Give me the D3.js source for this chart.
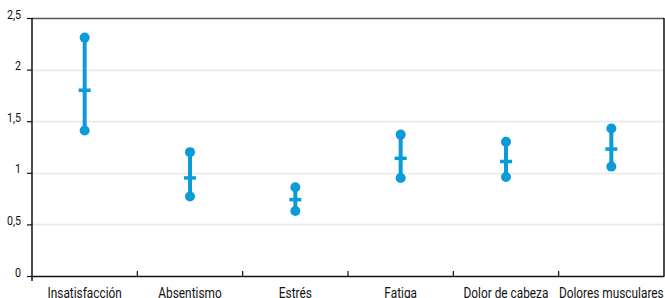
<!DOCTYPE html>
<html>
<head>
<meta charset="utf-8">
<script src="https://cdn.jsdelivr.net/npm/d3@7"></script>
<style>
  body { margin: 0; background: #fff; }
  svg text { font-family: Roboto, "Noto Sans", sans-serif; fill: #111; }
</style>
</head>
<body>
<div id="chart"></div>
<script>
"use strict";

var categories = ["Insatisfacción", "Absentismo", "Estrés", "Fatiga", "Dolor de cabeza", "Dolores musculares"];
var highs = [2.31, 1.20, 0.86, 1.37, 1.30, 1.43];
var means = [1.80, 0.95, 0.74, 1.14, 1.11, 1.23];
var lows  = [1.41, 0.77, 0.63, 0.95, 0.96, 1.06];
var yTicks = [0, 0.5, 1, 1.5, 2, 2.5];

var width = 665, height = 298;
var chart = {left: 32, right: 664, top: 18, bottom: 276};
var color = "#0b9bd9";
var squeeze = 0.79;  // fake a condensed face

var svg = d3.select("#chart").append("svg")
  .attr("width", width)
  .attr("height", height);

var x = d3.scaleBand()
  .domain(categories)
  .range([chart.left, chart.right]);

var y = d3.scaleLinear()
  .domain([0, 2.5])
  .range([chart.bottom, chart.top]);

var fmt = function(d) { return String(d).replace(".", ","); };

// grid
svg.append("g")
  .selectAll("line")
  .data(yTicks.filter(function(d) { return d > 0; }))
  .enter()
    .append("line")
      .attr("x1", chart.left)
      .attr("x2", chart.right)
      .attr("y1", function(d) { return Math.round(y(d)) + 0.5; })
      .attr("y2", function(d) { return Math.round(y(d)) + 0.5; })
      .attr("stroke", function(d) { return d === 2.5 ? "#555" : "#e8e8e8"; })
      .attr("stroke-width", 1.5);

// right border
svg.append("line")
  .attr("x1", chart.right).attr("x2", chart.right)
  .attr("y1", y(2.5)).attr("y2", chart.bottom)
  .attr("stroke", "#111").attr("stroke-width", 1.5);

// y axis
var yAxis = svg.append("g")
  .attr("transform", "translate(" + chart.left + ",0)")
  .call(d3.axisLeft(y).tickValues(yTicks).tickFormat(fmt).tickSize(5).tickPadding(6));
yAxis.select(".domain").attr("d", "M0," + (y(2.5)) + "V" + (chart.bottom + 5))
  .attr("stroke", "#111").attr("stroke-width", 1.5);
yAxis.selectAll(".tick line").attr("stroke", "#111").attr("stroke-width", 1.2);
yAxis.selectAll(".tick text")
  .style("font-size", "13.5px")
  .attr("dy", "0")
  .attr("x", -11 / squeeze)
  .attr("transform", "scale(" + squeeze + ",1)");

// x axis
var xAxis = svg.append("g")
  .attr("transform", "translate(0," + chart.bottom + ")")
  .call(d3.axisBottom(x).tickSize(0).tickPadding(11));
xAxis.select(".domain").attr("stroke", "#111").attr("stroke-width", 1.5);
xAxis.selectAll(".tick text")
  .style("font-size", "15px")
  .attr("dy", "0.71em")
  .attr("transform", "scale(" + squeeze + ",1)");

// category separators
svg.append("g")
  .selectAll("line")
  .data(categories.slice(1))
  .enter()
    .append("line")
      .attr("x1", function(d) { return x(d); })
      .attr("x2", function(d) { return x(d); })
      .attr("y1", chart.bottom)
      .attr("y2", chart.bottom - 5)
      .attr("stroke", "#111")
      .attr("stroke-width", 1.2);

// error bars
var rows = categories.map(function(c, i) {
  return {c: c, hi: highs[i], m: means[i], lo: lows[i]};
});

var bars = svg.append("g")
  .selectAll("g")
  .data(rows)
  .enter()
    .append("g")
      .attr("transform", function(d) { return "translate(" + (x(d.c) + x.bandwidth() / 2) + ",0)"; });

bars.append("line")
  .attr("y1", function(d) { return y(d.hi); })
  .attr("y2", function(d) { return y(d.lo); })
  .attr("stroke", color)
  .attr("stroke-width", 4);

bars.append("rect")
  .attr("x", -6)
  .attr("width", 12)
  .attr("y", function(d) { return y(d.m) - 1.75; })
  .attr("height", 3.5)
  .attr("fill", color);

bars.selectAll("circle")
  .data(function(d) { return [d.hi, d.lo]; })
  .enter()
    .append("circle")
      .attr("cy", function(v) { return y(v); })
      .attr("r", 5)
      .attr("fill", color);
</script>
</body>
</html>
